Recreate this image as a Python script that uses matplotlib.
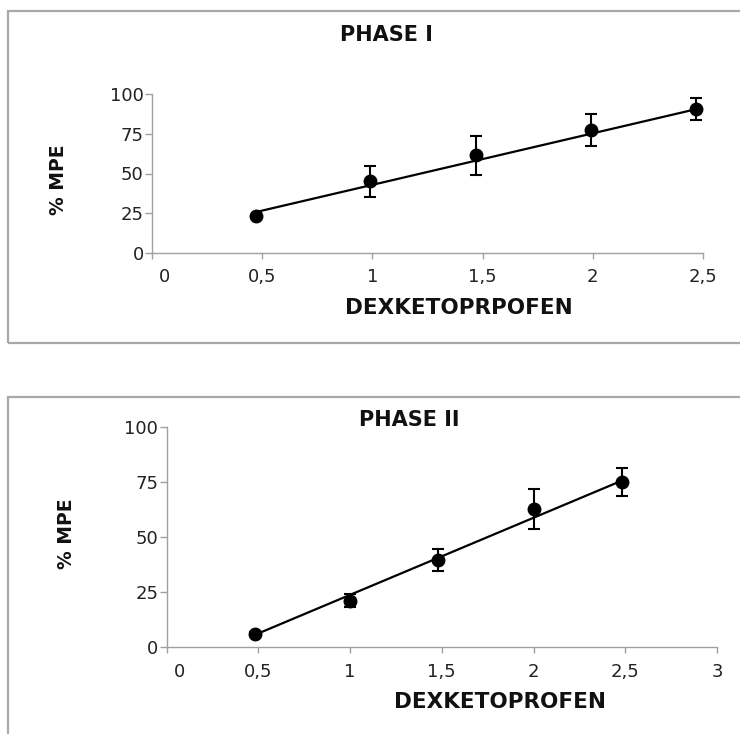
import numpy as np
import matplotlib
matplotlib.use('Agg')
import matplotlib.pyplot as plt
import matplotlib.patches as patches
import matplotlib.transforms as mtransforms

# データ
dose_1 = [0.47, 0.99, 1.47, 1.99, 2.47]
mpe_1 = [23.0, 45.0, 61.5, 77.3, 90.3]
err_1 = [1.0, 9.5, 12.2, 9.9, 6.9]
fit_x_1 = [0.47, 2.47]
fit_y_1 = [25.7, 90.5]

dose_2 = [0.48, 1.00, 1.48, 2.00, 2.48]
mpe_2 = [6.1, 21.1, 39.8, 62.8, 75.0]
err_2 = [1.0, 3.0, 5.1, 9.1, 6.4]
fit_x_2 = [0.48, 2.48]
fit_y_2 = [5.6, 75.7]

yticks = [0, 25, 50, 75, 100]
xticks_1 = [0, 0.5, 1, 1.5, 2, 2.5]
xticks_2 = [0, 0.5, 1, 1.5, 2, 2.5, 3]

plt.rcParams['font.family'] = ['DejaVu Sans']
gray = '#a0a0a0'

fig = plt.figure(figsize=(7.4, 7.34), dpi=100)

# 枠線
fig.patches.append(patches.Rectangle((8/740, 1-343/734), 1.2, (343-11)/734, transform=fig.transFigure,
                                     fill=False, edgecolor='#a8a8a8', lw=1.6))
fig.patches.append(patches.Rectangle((8/740, 1-780/734), 1.2, (780-397)/734, transform=fig.transFigure,
                                     fill=False, edgecolor='#a8a8a8', lw=1.6))

def setup(ax, xticks, xmax):
    ax.set_xlim(0, xmax)
    ax.set_ylim(0, 100)
    for s in ['top', 'right']:
        ax.spines[s].set_visible(False)
    for s in ['left', 'bottom']:
        ax.spines[s].set_color(gray)
        ax.spines[s].set_linewidth(1.0)
    ax.set_yticks(yticks)
    ax.set_xticks(xticks)
    ax.set_xticklabels([('%g' % v).replace('.', ',') for v in xticks])
    ax.tick_params(axis='y', direction='out', length=5, width=1, color=gray, pad=1,
                   labelsize=13, labelcolor='#222222')
    ax.tick_params(axis='x', direction='out', length=4, width=1, color=gray, pad=7,
                   labelsize=13, labelcolor='#222222')
    ax.patch.set_alpha(0)
    # "0" のラベルは右にずれている
    lab = ax.get_xticklabels()[0]
    lab.set_transform(lab.get_transform() + mtransforms.ScaledTranslation(13/100, 0, fig.dpi_scale_trans))

def draw(ax, x, y, e, fx, fy):
    ax.plot(fx, fy, color='black', lw=1.6, zorder=2)
    ax.errorbar(x, y, yerr=e, fmt='o', color='black', ms=9, elinewidth=1.5,
                capsize=4, capthick=1.5, zorder=3, clip_on=False)

ax1 = fig.add_axes([152/740, 1-253/734, (703-152)/740, (253-94)/734])
setup(ax1, xticks_1, 2.5)
draw(ax1, dose_1, mpe_1, err_1, fit_x_1, fit_y_1)

ax2 = fig.add_axes([166.5/740, 1-647.3/734, (717-166.5)/740, (647.3-427.3)/734])
setup(ax2, xticks_2, 3)
draw(ax2, dose_2, mpe_2, err_2, fit_x_2, fit_y_2)

tkw = dict(fontweight='bold', color='#111111', ha='center', va='center')
fig.text(386/740, 1-35/734, 'PHASE I', fontsize=15, **tkw)
fig.text(409/740, 1-420/734, 'PHASE II', fontsize=15, **tkw)
fig.text(459/740, 1-307.5/734, 'DEXKETOPRPOFEN', fontsize=15.5, **tkw)
fig.text(500/740, 1-701.5/734, 'DEXKETOPROFEN', fontsize=15.5, **tkw)
fig.text(58/740, 1-180/734, '% MPE', fontsize=13.5, rotation=90, **tkw)
fig.text(67/740, 1-534/734, '% MPE', fontsize=13.5, rotation=90, **tkw)

fig.savefig('out.png', dpi=100)
